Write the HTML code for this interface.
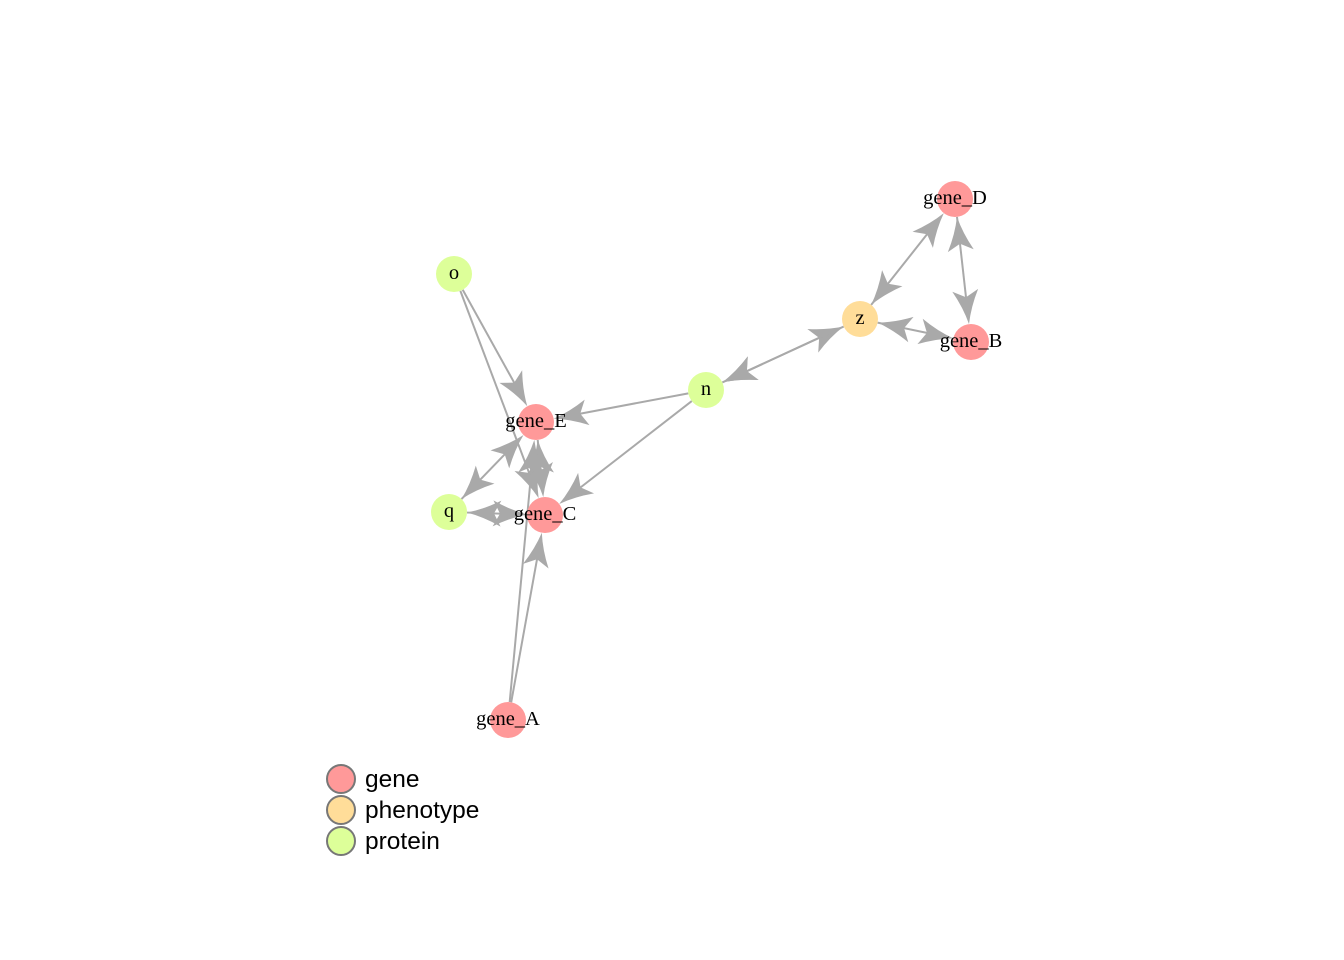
<!DOCTYPE html>
<html><head><meta charset="utf-8"><style>
html,body{margin:0;padding:0;background:#fff;}
svg{display:block;}
</style></head><body>
<svg id="chart" width="1344" height="960" viewBox="0 0 1344 960" xmlns="http://www.w3.org/2000/svg">
<g id="edges"></g>
<g id="nodes"></g>
<g id="legend"></g>
</svg>
<script>
const nodeNames = ["o","gene_E","q","gene_C","gene_A","n","z","gene_D","gene_B"];
const nodeTypes = ["protein","gene","protein","gene","gene","protein","phenotype","gene","gene"];
const nodeX = [454,536,449,545,508,706,860,955,971];
const nodeY = [274,422,512,515,720,390,319,199,342];
const edgeFrom = ["o","o","n","n","n","z","z","gene_D","z","q","q","gene_E","gene_A","gene_A"];
const edgeTo   = ["gene_E","gene_C","gene_E","gene_C","z","n","gene_D","gene_B","gene_B","gene_E","gene_C","gene_C","gene_E","gene_C"];
const edgeBoth = [false,false,false,false,true,false,true,true,true,true,true,true,false,false];
const typeNames = ["gene","phenotype","protein"];
const typeColors = ["#FF9999","#FFDD99","#DDFF99"];

const NS="http://www.w3.org/2000/svg";
const R=18;
const eg=document.getElementById('edges'), ng=document.getElementById('nodes'), lg=document.getElementById('legend');
function idx(n){return nodeNames.indexOf(n);}
function arrow(tx,ty,ux,uy,name){
  const L=34,W=13,N=27;
  const px=-uy,py=ux;
  const bx=tx-ux*L,by=ty-uy*L;
  const nx=tx-ux*N,ny=ty-uy*N;
  const cx=tx-ux*L*0.5,cy=ty-uy*L*0.5;
  const k=0.3;
  const d=`M${tx},${ty} Q${cx+px*W*k},${cy+py*W*k} ${bx+px*W},${by+py*W} L${nx},${ny} L${bx-px*W},${by-py*W} Q${cx-px*W*k},${cy-py*W*k} ${tx},${ty}Z`;
  const p=document.createElementNS(NS,'path');
  p.setAttribute('d',d);p.setAttribute('fill','#A9A9A9');
  
  
  eg.appendChild(p);
}
for(let i=0;i<edgeFrom.length;i++){
  const a=idx(edgeFrom[i]),b=idx(edgeTo[i]);
  const x1=nodeX[a],y1=nodeY[a],x2=nodeX[b],y2=nodeY[b];
  const len=Math.hypot(x2-x1,y2-y1),ux=(x2-x1)/len,uy=(y2-y1)/len;
  const sx=x1+ux*R,sy=y1+uy*R,ex=x2-ux*R,ey=y2-uy*R;
  const l=document.createElementNS(NS,'line');
  l.setAttribute('x1',sx);l.setAttribute('y1',sy);l.setAttribute('x2',ex-ux*24);l.setAttribute('y2',ey-uy*24);
  l.setAttribute('stroke','#A9A9A9');l.setAttribute('stroke-width','2');
  
  
  eg.appendChild(l);
  arrow(ex,ey,ux,uy,'arrow-to-'+edgeTo[i]);
  if(edgeBoth[i]) arrow(sx,sy,-ux,-uy,'arrow-to-'+edgeFrom[i]);
}
for(let i=0;i<nodeNames.length;i++){
  const c=document.createElementNS(NS,'circle');
  c.setAttribute('cx',nodeX[i]);c.setAttribute('cy',nodeY[i]);c.setAttribute('r',R);
  c.setAttribute('fill',typeColors[typeNames.indexOf(nodeTypes[i])]);
  
  
  ng.appendChild(c);
}
for(let i=0;i<nodeNames.length;i++){
  const t=document.createElementNS(NS,'text');
  t.setAttribute('x',nodeX[i]);t.setAttribute('y',nodeY[i]+5);
  t.setAttribute('text-anchor','middle');
  t.setAttribute('font-family','"Liberation Serif", serif');
  t.setAttribute('font-size','20.5');
  t.textContent=nodeNames[i];
  
  
  ng.appendChild(t);
}
for(let i=0;i<typeNames.length;i++){
  const y=779+i*31;
  const c=document.createElementNS(NS,'circle');
  c.setAttribute('cx',341);c.setAttribute('cy',y);c.setAttribute('r',14);
  c.setAttribute('fill',typeColors[i]);c.setAttribute('stroke','#777');c.setAttribute('stroke-width','2');
  
  
  lg.appendChild(c);
  const t=document.createElementNS(NS,'text');
  t.setAttribute('x',365);t.setAttribute('y',y+8);
  t.setAttribute('font-family','"Liberation Sans", sans-serif');
  t.setAttribute('font-size','24.5');
  t.textContent=typeNames[i];
  
  
  lg.appendChild(t);
}
</script>
</body></html>
